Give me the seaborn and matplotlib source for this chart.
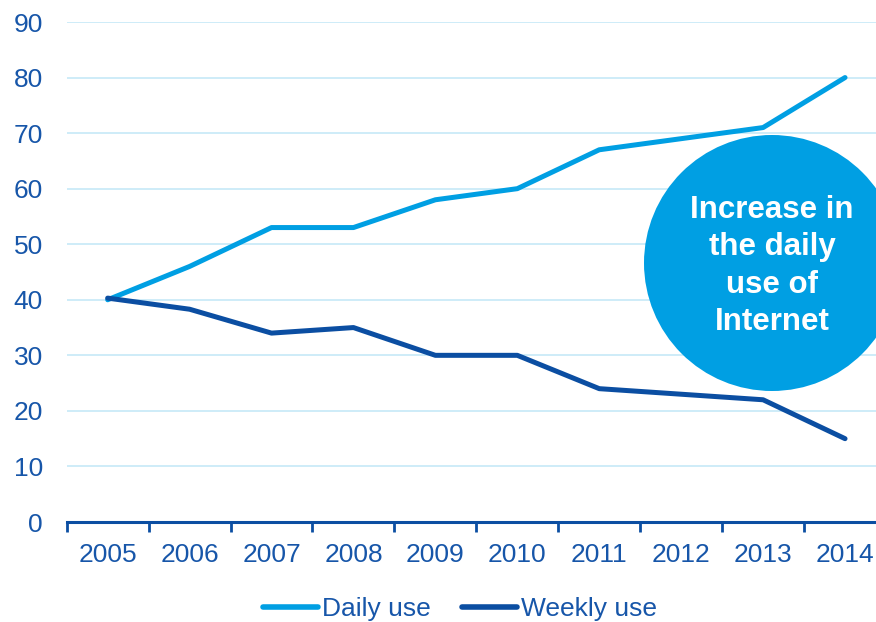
import numpy as np
import pandas as pd
import matplotlib
matplotlib.use("Agg")
import matplotlib.pyplot as plt
import seaborn as sns
from matplotlib.patches import Ellipse
from matplotlib.lines import Line2D

years = ["2005", "2006", "2007", "2008", "2009", "2010", "2011", "2012", "2013", "2014"]
daily_use = [40, 46, 53, 53, 58, 60, 67, 69, 71, 80]
weekly_use = [40.3, 38.3, 34, 35, 30, 30, 24, 23, 22, 15]
series_names = ["Daily use", "Weekly use"]
y_ticks = [0, 10, 20, 30, 40, 50, 60, 70, 80, 90]
bubble_text = "Increase in\nthe daily\nuse of\nInternet"

LIGHT = "#009FE3"
DARK = "#0B4EA2"
TEXT = "#1756A9"
GRID = "#C6E9F7"

sns.set_theme(style="white")
plt.rcParams["font.family"] = ["Liberation Sans", "DejaVu Sans"]

df = pd.DataFrame({
    "pos": list(range(len(years))) * 2,
    "value": daily_use + weekly_use,
    "series": [series_names[0]] * len(years) + [series_names[1]] * len(years),
})

fig = plt.figure(figsize=(8.76, 6.22), dpi=100)
W, H = 876, 622
ax = fig.add_axes([66.7 / W, (H - 522) / H, (886 - 66.7) / W, 500 / H])

sns.lineplot(data=df, x="pos", y="value", hue="series", palette=[LIGHT, DARK],
             linewidth=3.6, ax=ax, legend=False, zorder=4)
for l in ax.get_lines():
    l.set_solid_capstyle("round")

FS = 19
ax.set_xlim(-0.5, len(years) - 0.5)
ax.set_ylim(0, 90)
ax.set_yticks(y_ticks)
ax.set_yticklabels([str(t) for t in y_ticks])
ax.yaxis.grid(True, color=GRID, linewidth=1.2, zorder=0)
ax.set_axisbelow(True)
ax.tick_params(axis="y", left=False, length=0, pad=17, labelsize=FS, labelcolor=TEXT)

ax.set_xticks(np.arange(-0.5, len(years), 1.0))
ax.set_xticklabels([])
ax.tick_params(axis="x", which="major", bottom=True, length=7, width=2, color=DARK, direction="out")
ax.set_xticks(np.arange(len(years)), minor=True)
ax.set_xticklabels(years, minor=True)
ax.tick_params(axis="x", which="minor", bottom=True, length=0, pad=15, labelsize=FS, labelcolor=TEXT)

for s in ["top", "right", "left"]:
    ax.spines[s].set_visible(False)
ax.spines["bottom"].set_color(DARK)
ax.spines["bottom"].set_linewidth(2.2)
ax.set_xlabel("")
ax.set_ylabel("")

# bubble
cx, cy, r = 772, 263, 128
fig.add_artist(Ellipse((cx / W, (H - cy) / H), 2 * r / W, 2 * r / H,
                       transform=fig.transFigure, facecolor=LIGHT, edgecolor="none", zorder=3))
fig.text(cx / W, (H - 266) / H, bubble_text, color="white", fontsize=22.5, fontweight="bold",
         ha="center", va="center", linespacing=1.33, zorder=5)

handles = [Line2D([0], [0], color=LIGHT, linewidth=4, solid_capstyle="round"),
           Line2D([0], [0], color=DARK, linewidth=4, solid_capstyle="round")]
leg = fig.legend(handles, series_names, loc="center", bbox_to_anchor=(460 / W, (H - 609) / H),
                 ncol=2, frameon=False, fontsize=FS, handlelength=2.1, handletextpad=0.15,
                 columnspacing=1.15)
for t in leg.get_texts():
    t.set_color(TEXT)

fig.savefig("out.png", dpi=100)
